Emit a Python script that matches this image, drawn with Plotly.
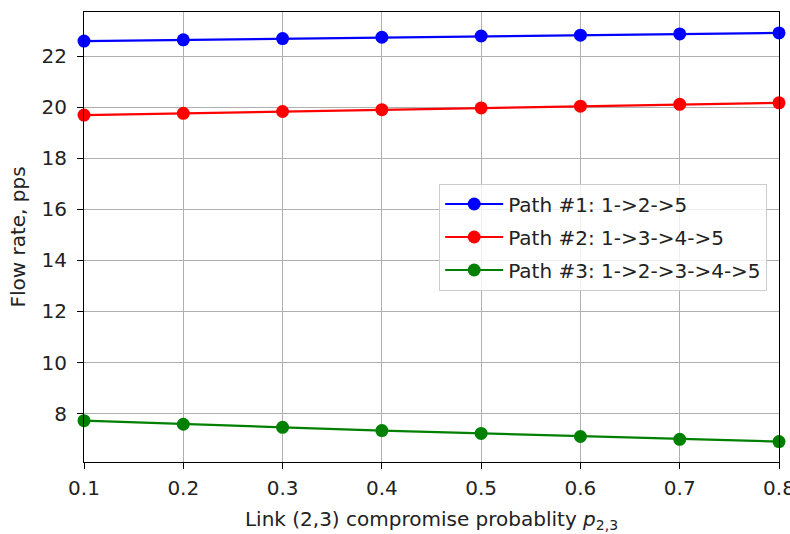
import plotly.graph_objects as go

p = [0.1, 0.2, 0.3, 0.4, 0.5, 0.6, 0.7, 0.8]
path1 = [22.60, 22.65, 22.70, 22.75, 22.80, 22.83, 22.88, 22.92]
path2 = [19.70, 19.77, 19.84, 19.91, 19.98, 20.05, 20.12, 20.18]
path3 = [7.72, 7.58, 7.46, 7.33, 7.22, 7.10, 6.99, 6.90]
names = ["Path #1: 1->2->5", "Path #2: 1->3->4->5", "Path #3: 1->2->3->4->5"]
colors = ["#0000ff", "#ff0000", "#008000"]
yticks = [8, 10, 12, 14, 16, 18, 20, 22]
xticks = [0.1, 0.2, 0.3, 0.4, 0.5, 0.6, 0.7, 0.8]

fig = go.Figure()
for i, (ys, nm, c) in enumerate(zip([path1, path2, path3], names, colors)):
    fig.add_trace(go.Scatter(x=p, y=ys, name=nm, mode="lines+markers",
                             legendgroup=f"g{i}",
                             line=dict(color=c, width=2.2),
                             marker=dict(color=c, size=13),
                             cliponaxis=False))

font = dict(family="DejaVu Sans", size=20, color="#222222")
fig.update_layout(
    width=790, height=534,
    margin=dict(l=84, r=11, t=12, b=72),
    paper_bgcolor="white", plot_bgcolor="white",
    font=font,
    showlegend=True,
    legend=dict(x=0.983, y=0.5, xanchor="right", yanchor="middle",
                bgcolor="rgba(255,255,255,0.8)", bordercolor="#cccccc", borderwidth=1,
                font=dict(family="DejaVu Sans", size=20, color="#222222"),
                itemwidth=58, traceorder="grouped", tracegroupgap=4),
    xaxis=dict(range=[0.1, 0.8], tickvals=xticks, ticktext=[f"{v:.1f}" for v in xticks],
               showgrid=True, gridcolor="#b0b0b0", gridwidth=1,
               showline=True, linecolor="black", linewidth=1.2, mirror=True,
               ticks="outside", ticklen=6, tickcolor="black", zeroline=False,
               ticklabeloverflow="allow", ticklabelstandoff=2, automargin=False,
               title=dict(text="Link (2,3) compromise probablity <i>p</i><sub>2,3</sub>",
                          font=font, standoff=12)),
    yaxis=dict(range=[6.1, 23.74], tickvals=yticks,
               showgrid=True, gridcolor="#b0b0b0", gridwidth=1,
               showline=True, linecolor="black", linewidth=1.2, mirror=True,
               ticks="outside", ticklen=6, tickcolor="black", zeroline=False,
               ticklabelstandoff=6, automargin=False,
               title=dict(text="Flow rate, pps", font=font, standoff=10)),
)
fig.write_html("out.html")
